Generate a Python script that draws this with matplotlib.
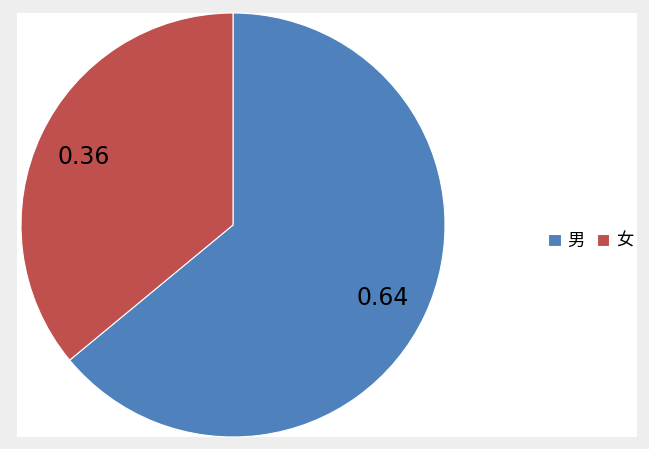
import matplotlib
matplotlib.use("Agg")
import matplotlib.pyplot as plt
from matplotlib.patches import Rectangle

categories = ["男", "女"]
values = [0.64, 0.36]
value_labels = ["0.64", "0.36"]
colors = ["#4F81BD", "#C0504D"]

W, H = 649, 449
fig = plt.figure(figsize=(W / 100, H / 100), dpi=100, facecolor="#eeeeee")
fig.patches.append(Rectangle((17 / W, 1 - 437 / H), 620 / W, 424 / H,
                             transform=fig.transFigure, facecolor="white",
                             edgecolor="none", zorder=-10))

cx, cy, r = 233, 224, 212
ax = fig.add_axes([(cx - r) / W, (cy - r) / H, 2 * r / W, 2 * r / H])
ax.set_zorder(5)
ax.patch.set_visible(False)
wedges, texts = ax.pie(values, colors=colors, startangle=90, counterclock=False,
                       labels=value_labels, labeldistance=0.78,
                       wedgeprops=dict(edgecolor="white", linewidth=0.8),
                       textprops=dict(fontsize=17, family="DejaVu Sans", color="black"))
for t in texts:
    t.set_ha("center")
    t.set_va("center_baseline")
ax.set_aspect("equal")
ax.set_xlim(-1, 1)
ax.set_ylim(-1, 1)
ax.axis("off")

fig.legend(wedges, categories, loc="center", bbox_to_anchor=(591 / W, 1 - 241 / H),
           ncol=2, frameon=False, handlelength=0.7, handleheight=0.7,
           handletextpad=0.4, columnspacing=0.7,
           prop=dict(family=["Noto Sans CJK SC", "DejaVu Sans"], size=12.5))

fig.savefig("out.png", dpi=100, facecolor=fig.get_facecolor())
